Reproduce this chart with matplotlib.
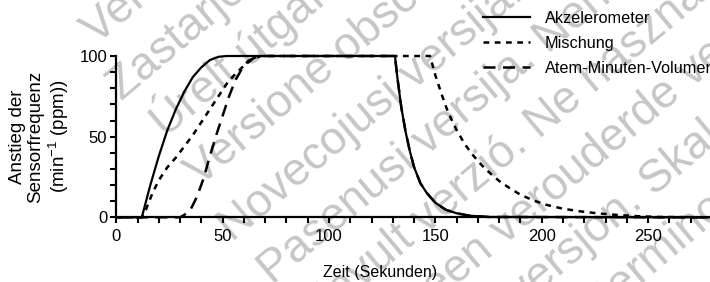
import numpy as np
import matplotlib
matplotlib.use("Agg")
import matplotlib.pyplot as plt
from matplotlib.ticker import MultipleLocator

plt.rcParams['font.family'] = ['Liberation Sans', 'DejaVu Sans']
plt.rcParams['mathtext.fontset'] = 'custom'
plt.rcParams['mathtext.rm'] = 'Liberation Sans'

# values (time in s, rise in ppm)
akz_t = [0, 12, 16, 20, 24, 28, 32, 36, 40, 44, 48, 52, 131, 132, 134, 136, 138, 140, 143, 146, 150, 155, 160, 166, 175, 280]
akz_v = [0, 0, 20, 38, 54, 67, 78, 87, 93, 97.5, 99.5, 100, 100, 88, 68, 53, 41, 31, 21, 15, 9, 4.6, 2.5, 1, 0.2, 0]

mix_t = [0, 12, 14, 17, 20, 24, 28, 32, 36, 40, 44, 48, 52, 56, 60, 64, 68, 147.5, 150, 153, 156, 160, 164, 168, 172,
         176, 180, 185, 190, 196, 202, 210, 218, 226, 235, 245, 255, 280]
mix_v = [0, 0, 5, 15, 23, 31, 37, 44, 51, 59, 67, 75, 83, 89, 94, 98, 100, 100, 88, 76, 65, 54, 45, 38, 32,
         27, 22.5, 18, 14, 10.5, 7.8, 5.3, 3.7, 2.5, 1.5, 0.7, 0.2, 0]

amv_t = [0, 30, 32, 35, 38, 41, 44, 47, 50, 53, 56, 59, 62, 66, 70, 131, 132, 134, 136, 138, 140, 143, 146, 150, 155,
         160, 166, 175, 280]
amv_v = [0, 0, 1.5, 5, 13, 24, 38, 51, 63, 75, 85, 92, 97, 99.5, 100, 100, 88, 68, 53, 41, 31, 21, 15, 9, 4.6,
         2.5, 1, 0.2, 0]

labels = ["Akzelerometer", "Mischung", "Atem-Minuten-Volumen"]

# background watermark lines
watermark = [
    "Versión obsoleta. No utilizar.",
    "Version obsolète. Ne pas utiliser.",
    "Zastarjela verzija. Nemojte upotrebljavati.",
    "Úrelt útgáfa. Notið ekki.",
    "Versione obsoleta. Non utilizzare.",
    "Novecojusi versija. Neizmantot.",
    "Pasenusi versija. Nenaudokite.",
    "Elavult verzió. Ne használja!",
    "Dit is een verouderde versie. Niet gebruiken.",
    "Utdatert versjon. Skal ikke brukes.",
    "Wersja przeterminowana. Nie używać.",
    "Versão obsoleta. Não utilize.",
]
wm_offset = [44, 97, 156, 212, 272, 335, 394, 453, 512, 571, 630, 689]
wm_start = [42, 45, 28, 38, 33, 22, 25, 25, 25, 25, 25, 25]

W, H = 710, 282
fig = plt.figure(figsize=(W / 100, H / 100), dpi=100)

ang = np.radians(40)
d = np.array([np.cos(ang), -np.sin(ang)])
n = np.array([np.sin(ang), np.cos(ang)])
for s, c, txt in zip(wm_start, wm_offset, watermark):
    px, py = s * d + c * n
    fig.text(px / W, 1 - py / H, txt, rotation=40, rotation_mode='anchor',
             ha='left', va='baseline', fontsize=33, color='#c6c6c6', zorder=-5)

ax = fig.add_axes([116.3 / W, 1 - 217.3 / H, 1 - 116.3 / W, 161.3 / H])
ax.patch.set_visible(False)

l1, = ax.plot(akz_t, akz_v, color='black', lw=1.6, clip_on=False, zorder=4, label=labels[0])
l2, = ax.plot(mix_t, mix_v, color='black', lw=1.8, dashes=(2.3, 2.2), clip_on=False, zorder=3, label=labels[1])
l3, = ax.plot(amv_t, amv_v, color='black', lw=1.8, dashes=(4.8, 3.0), clip_on=False, zorder=2, label=labels[2])

ax.set_xlim(0, 279.1)
ax.set_ylim(0, 100)
ax.xaxis.set_major_locator(MultipleLocator(50))
ax.xaxis.set_minor_locator(MultipleLocator(10))
ax.yaxis.set_major_locator(MultipleLocator(50))
ax.yaxis.set_minor_locator(MultipleLocator(10))

for side in ['top', 'right']:
    ax.spines[side].set_visible(False)
for side in ['left', 'bottom']:
    ax.spines[side].set_linewidth(1.6)
ax.tick_params(which='both', direction='out', length=4.5, width=1.5, labelsize=12, color='black')
ax.tick_params(axis='x', pad=4)
ax.tick_params(axis='y', pad=2)

ax.set_xlabel("Zeit (Sekunden)", fontsize=11.5, va='center')
ax.xaxis.set_label_coords((380 - 116.3) / (W - 116.3), (217.3 - 272) / 161.3)
ax.set_ylabel("Anstieg der\nSensorfrequenz\n(min$^{-1}$ (ppm))", fontsize=13.5, va='center', ha='center',
              linespacing=1.1)
ax.yaxis.set_label_coords((40 - 116.3) / (W - 116.3), 0.5)

fig.legend(handles=[l1, l2, l3], loc='upper left', bbox_to_anchor=(483 / W, 1 - 11 / H),
           frameon=False, fontsize=11.7, handlelength=2.9, handletextpad=0.9, labelspacing=0.62,
           borderpad=0, borderaxespad=0)

fig.savefig("out.png", dpi=100)
